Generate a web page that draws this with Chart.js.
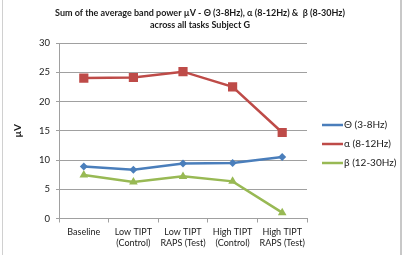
<!DOCTYPE html>
<html>
<head>
<meta charset="utf-8">
<script src="https://cdn.jsdelivr.net/npm/chart.js@4.4.1/dist/chart.umd.min.js"></script>
<style>
  html, body { margin: 0; padding: 0; background: #fff; }
  #wrap { position: relative; width: 406px; height: 255px; }
  #wrap:before { content: ''; position: absolute; left: 2px; top: 0; bottom: 0; border-left: 1px solid #d0d0d0; }
  #wrap:after { content: ''; position: absolute; left: 400px; top: 0; bottom: 0; border-left: 2px solid #c8c8c8; }
</style>
</head>
<body>
<div id="wrap"><canvas id="chart" width="406" height="255"></canvas></div>
<script>
const FONT = 'Lato, "Open Sans", sans-serif';

const categories = ['Baseline', ['Low TIPT', '(Control)'], ['Low TIPT', 'RAPS (Test)'], ['High TIPT', '(Control)'], ['High TIPT', 'RAPS (Test)']];
const titleLines = ['Sum of the average band power \u00b5V - \u0398 (3-8Hz), \u03b1 (8-12Hz) &  \u03b2 (8-30Hz)', 'across all tasks Subject G'];
const yTicks = [0, 5, 10, 15, 20, 25, 30];

const thetaValues = [8.9, 8.35, 9.4, 9.5, 10.5];
const alphaValues = [24.0, 24.1, 25.1, 22.5, 14.7];
const betaValues = [7.45, 6.25, 7.2, 6.35, 1.0];

const seriesNames = ['\u0398 (3-8Hz)', '\u03b1 (8-12Hz)', '\u03b2 (12-30Hz)'];

// title + side legend drawn by hand so the plot area can be pinned
const decorPlugin = {
    id: 'decor',
    afterDraw(chart) {
        const ctx = chart.ctx;
        ctx.save();
        ctx.fillStyle = '#1a1a1a';
        ctx.font = 'bold 9px ' + FONT;
        ctx.textAlign = 'center';
        ctx.textBaseline = 'middle';
        ctx.fillText(titleLines[0], 200, 13);
        ctx.fillText(titleLines[1], 200, 25);

        const rows = [125, 144, 163];
        chart.data.datasets.forEach((ds, i) => {
            const y = rows[i];
            ctx.strokeStyle = ds.borderColor;
            ctx.lineWidth = 2.5;
            ctx.beginPath();
            ctx.moveTo(322, y);
            ctx.lineTo(343, y);
            ctx.stroke();
            ctx.fillStyle = ds.backgroundColor;
            Chart.helpers.drawPoint(ctx, {
                pointStyle: ds.pointStyle,
                rotation: 0,
                borderWidth: 0
            }, 332.5, y);
            ctx.fillStyle = '#1a1a1a';
            ctx.font = '10px ' + FONT;
            ctx.textAlign = 'left';
            ctx.fillText(ds.label, 344, y);
        });
        ctx.restore();
    }
};

function makeSet(label, data, color, style, radius) {
    return {
        label: label,
        data: data,
        borderColor: color,
        backgroundColor: color,
        borderWidth: 2.5,
        pointStyle: style,
        pointRadius: radius,
        pointHoverRadius: radius,
        pointBorderWidth: 0,
        tension: 0
    };
}

const chart = new Chart(document.getElementById('chart'), {
    type: 'line',
    data: {
        labels: categories,
        datasets: [
            makeSet(seriesNames[0], thetaValues, '#4a7ebb', 'rectRot', 4),
            makeSet(seriesNames[1], alphaValues, '#be4b48', 'rect', 6.5),
            makeSet(seriesNames[2], betaValues, '#98b954', 'triangle', 5)
        ]
    },
    options: {
        responsive: false,
        animation: false,
        layout: { padding: { left: 0, right: 99, top: 43, bottom: 0 } },
        plugins: {
            legend: { display: false },
            title: { display: false },
            tooltip: { enabled: false }
        },
        scales: {
            x: {
                offset: true,
                grid: { offset: true, drawOnChartArea: false, tickLength: 4, color: '#a0a0a0' },
                border: { color: '#a0a0a0' },
                ticks: { color: '#1a1a1a', font: { family: FONT, size: 9 }, padding: 4, maxRotation: 0, autoSkip: false },
                afterFit: s => { s.height = 36.5; }
            },
            y: {
                min: 0,
                max: 30,
                afterBuildTicks: s => { s.ticks = yTicks.map(v => ({ value: v })); },
                grid: { color: '#a0a0a0', tickLength: 3 },
                border: { color: '#a0a0a0' },
                ticks: { color: '#1a1a1a', font: { family: FONT, size: 9.5 }, padding: 6 },
                title: { display: true, text: '\u00b5V', color: '#1a1a1a', font: { family: FONT, size: 10, weight: 'bold' }, padding: { top: 12, bottom: 0 } },
                afterFit: s => { s.width = 59; }
            }
        }
    },
    plugins: [decorPlugin]
});
</script>
</body>
</html>
